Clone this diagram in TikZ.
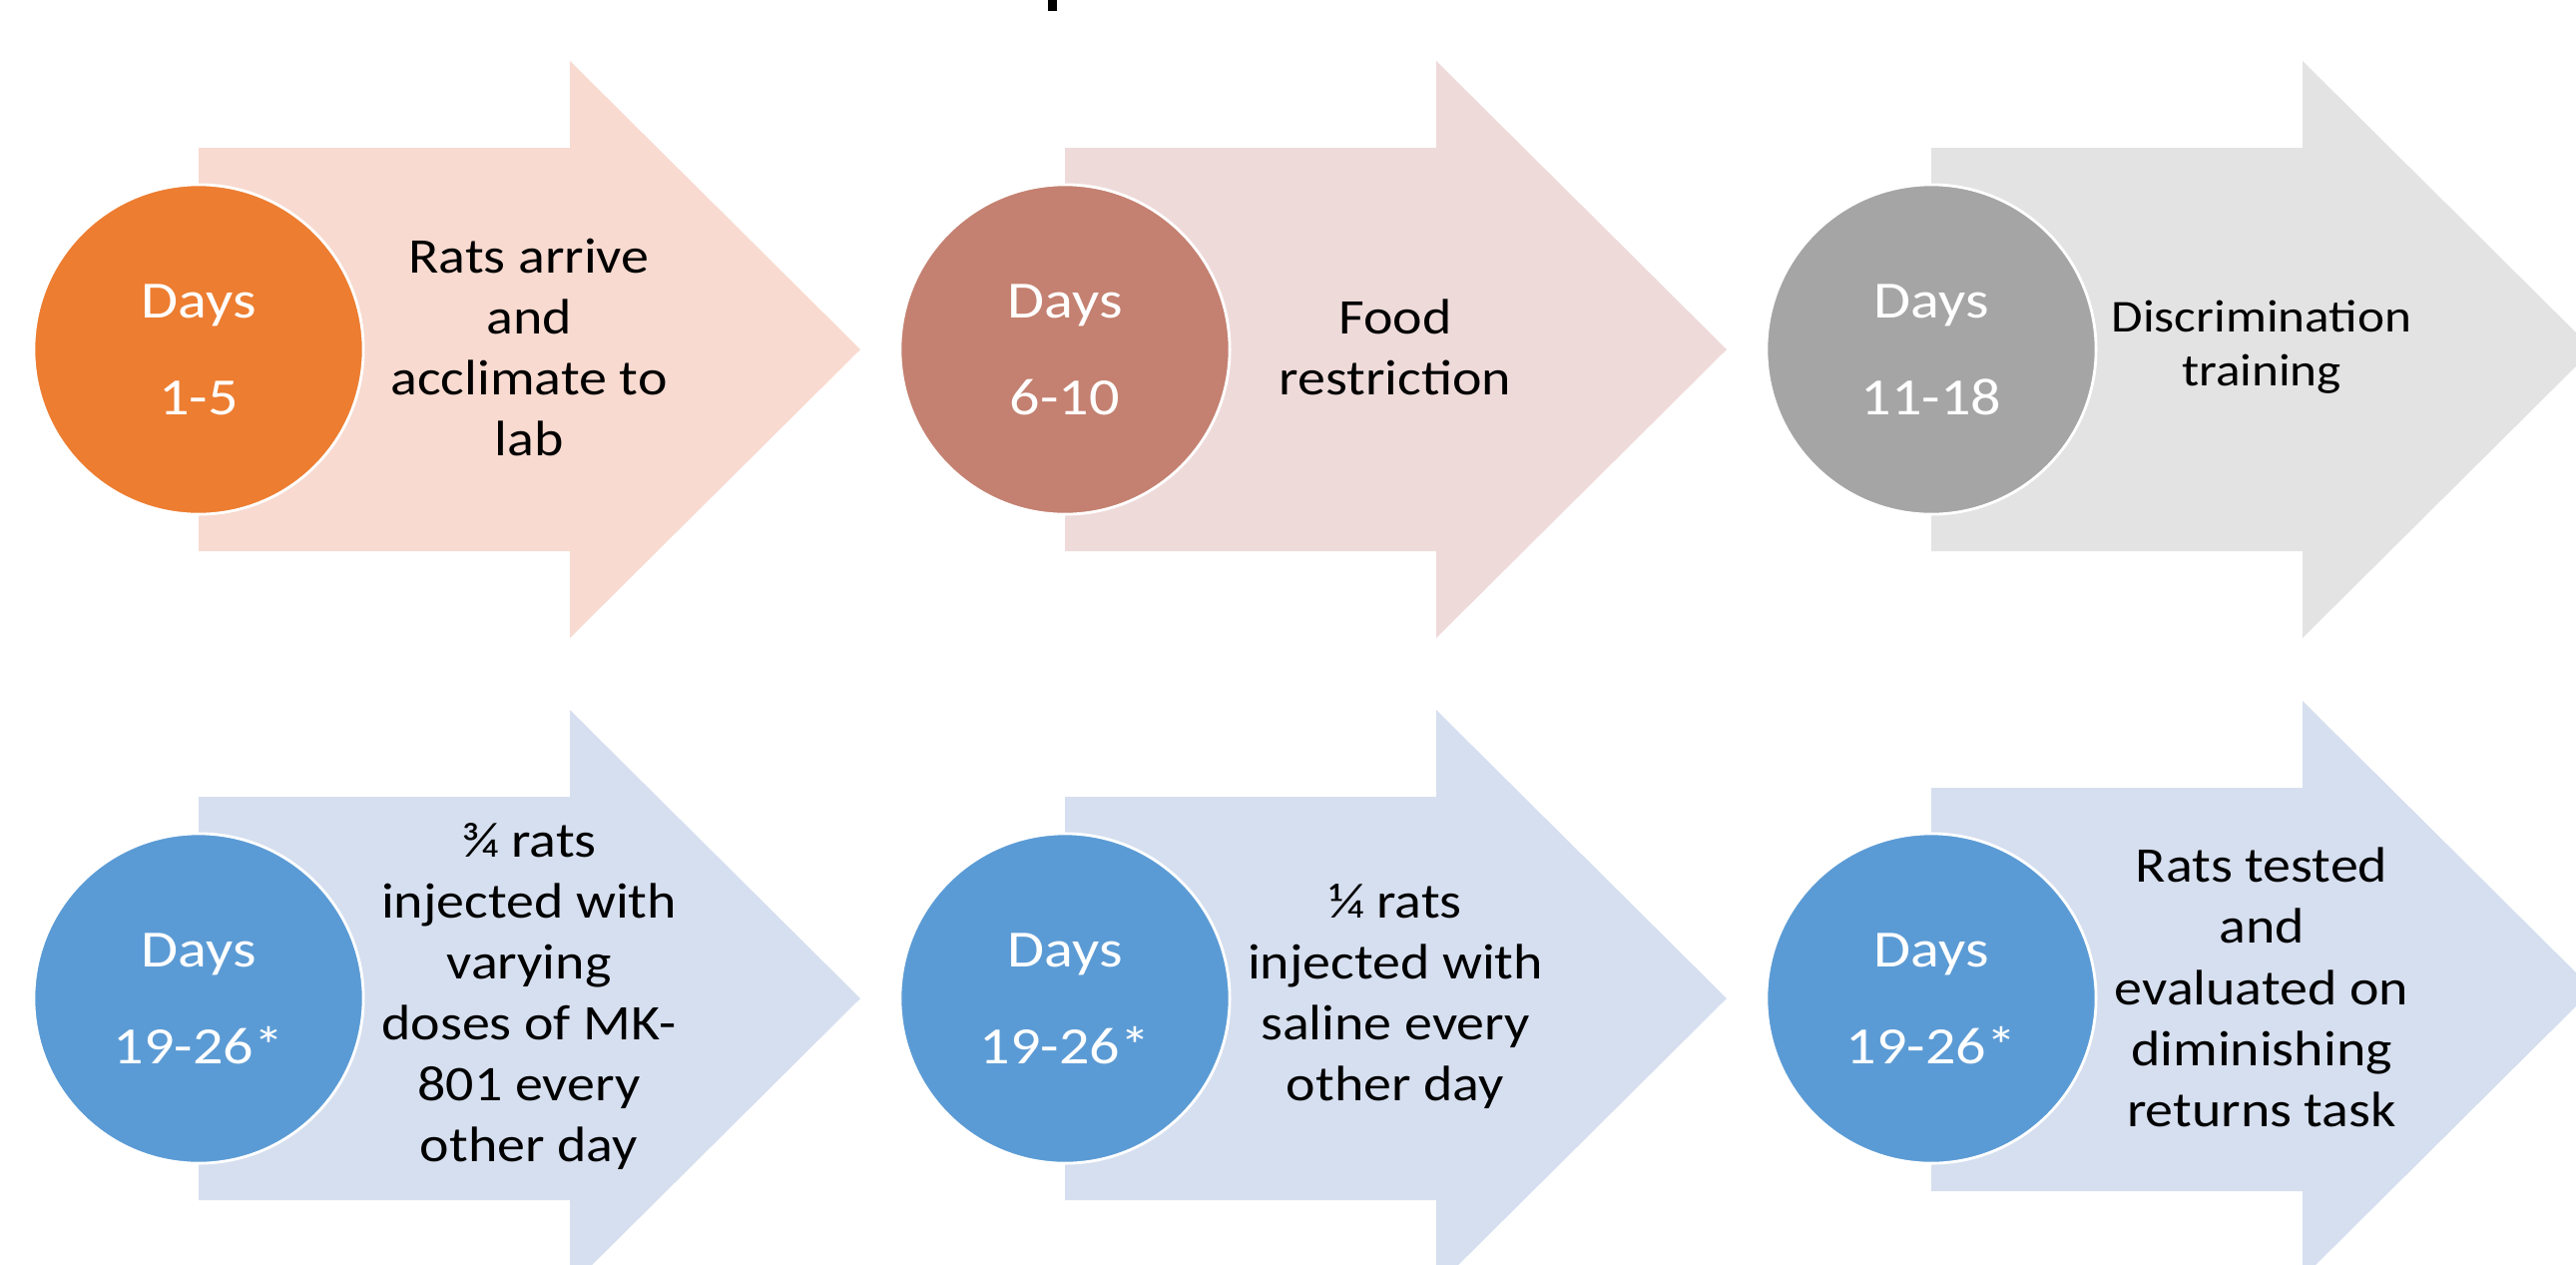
\documentclass[tikz,border=0pt]{standalone}
\usepackage{fontspec}
\setmainfont{Carlito}
\newfontfamily\dayfont[FakeStretch=1.15]{Carlito}
\newfontfamily\taskfont[FakeStretch=1.12]{Carlito}

\definecolor{orangeA}{HTML}{ED7D31}
\definecolor{peachA}{HTML}{F8DAD0}
\definecolor{roseB}{HTML}{C48070}
\definecolor{roseL}{HTML}{EFDADA}
\definecolor{grayC}{HTML}{A5A5A5}
\definecolor{grayL}{HTML}{E3E3E3}
\definecolor{blueD}{HTML}{5B9BD5}
\definecolor{blueL}{HTML}{D6DFEF}

% block arrow: tail x, centre y, fill
\newcommand{\phasearrow}[3]{%
  \fill[#3] (#1,#2-202) -- (#1+372,#2-202) -- (#1+372,#2-289) -- (#1+663,#2)
    -- (#1+372,#2+289) -- (#1+372,#2+202) -- (#1,#2+202) -- cycle;}

\begin{document}
\begin{tikzpicture}[x=0.01cm, y=-0.01cm,
    day/.style={circle, draw=white, line width=0.8pt, minimum size=3.3cm, inner sep=0pt,
      text=white, align=center, font=\dayfont\fontsize{14.9}{27.6}\selectfont},
    task/.style={align=center, inner sep=0pt, font=\taskfont\fontsize{14.2}{17.4}\selectfont}]
	\useasboundingbox (0,0) rectangle (2581,1266);
	\fill[white] (0,0) rectangle (2581,1266);
	\clip (0,0) rectangle (2581,1266);

	% cut-off title
	\fill[black] (1050,0) rectangle (1059,11);

	% top row
	\phasearrow{199}{350}{peachA}
	\phasearrow{1067}{350}{roseL}
	\phasearrow{1935}{350}{grayL}

	\node[day, fill=orangeA] (d1) at (199, 350) {Days\\1-5};
	\node[day, fill=roseB] (d2) at (1067, 350) {Days\\6-10};
	\node[day, fill=grayC] (d3) at (1935, 350) {Days\\11-18};

	\node[task] (t1) at (530, 348) {Rats arrive\\and\\acclimate to\\lab};
	\node[task] (t2) at (1398, 348) {Food\\restriction};
	\node[task, font=\taskfont\fontsize{13}{15.4}\selectfont] (t3) at (2266, 348) {Discrimination\\training};

	% bottom row
	\phasearrow{199}{1000}{blueL}
	\phasearrow{1067}{1000}{blueL}
	\phasearrow{1935}{991}{blueL}

	\node[day, fill=blueD] (d4) at (199, 1000) {Days\\19-26*};
	\node[day, fill=blueD] (d5) at (1067, 1000) {Days\\19-26*};
	\node[day, fill=blueD] (d6) at (1935, 1000) {Days\\19-26*};

	\node[task] (t4) at (530, 998) {¾ rats\\injected with\\varying\\doses of MK-\\801 every\\other day};
	\node[task] (t5) at (1398, 998) {¼ rats\\injected with\\saline every\\other day};
	\node[task] (t6) at (2266, 989) {Rats tested\\and\\evaluated on\\diminishing\\returns task};
\end{tikzpicture}
\end{document}
